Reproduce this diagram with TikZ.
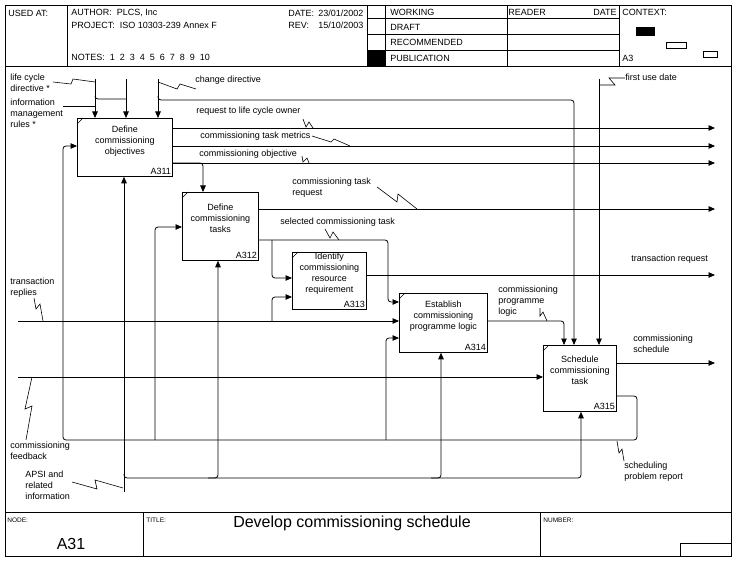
\documentclass[tikz,border=0pt]{standalone}
\usepackage{fontspec}
\setmainfont{Liberation Sans}
\usetikzlibrary{arrows.meta}

\begin{document}
\begin{tikzpicture}[x=1pt,y=-1pt,line width=0.8pt,
    caja/.style={draw,line width=0.8pt,anchor=north west,inner sep=0pt},
    texto/.style={font=\fontsize{9}{11}\selectfont,inner sep=0pt,align=center,anchor=north},
    etiq/.style={font=\fontsize{9}{11}\selectfont,inner sep=0pt,align=left,anchor=north west},
    cab/.style={font=\fontsize{9}{10}\selectfont,inner sep=0pt,anchor=west},
    pequeno/.style={font=\fontsize{6.5}{8}\selectfont,inner sep=0pt,anchor=west},
    flecha/.style={-{Triangle[length=6.5pt,width=5.5pt]},rounded corners=3pt},
    rayo/.style={line width=0.6pt}]
\useasboundingbox (0,0) rectangle (742,567);
\draw (5,5) rectangle (731,556); %marco
\draw (5,66) -- (731,66); %cabecera
\draw (67,5) -- (67,66);
\draw (367,5) -- (367,66);
\draw (385,5) -- (385,66);
\draw (507,5) -- (507,66);
\draw (619,5) -- (619,66);
\foreach \y in {18,34,50} \draw (367,\y) -- (619,\y); %filas de estado
\fill (367,50) rectangle (385,66);
\fill (636,27) rectangle (655,36); %contexto
\draw (666,42) rectangle (686,48);
\draw (703,51) rectangle (717,57);
\draw (5,512) -- (731,512); %pie
\draw (143,512) -- (143,556);
\draw (540,512) -- (540,556);
\draw (680,556) |- (731,543);
\node[cab] (usado) at (8,13) {USED AT:};
\node[cab] (autor) at (71,13) {AUTHOR:\ \ PLCS, Inc};
\node[cab] (proy) at (71,25) {PROJECT:\ \ ISO 10303-239 Annex F};
\node[cab] (notas) at (71,57) {NOTES:\ \ 1\ \ 2\ \ 3\ \ 4\ \ 5\ \ 6\ \ 7\ \ 8\ \ 9\ \ 10};
\node[cab] (fecha) at (288,13) {DATE:};
\node[cab] (fechav) at (318,13) {23/01/2002};
\node[cab] (rev) at (288,25) {REV:};
\node[cab] (revv) at (318,25) {15/10/2003};
\node[cab] (work) at (390,12) {WORKING};
\node[cab] (draft) at (390,27) {DRAFT};
\node[cab] (recom) at (390,42) {RECOMMENDED};
\node[cab] (publ) at (390,58) {PUBLICATION};
\node[cab] (lector) at (508,12) {READER};
\node[cab,anchor=east] (fechal) at (617,12) {DATE};
\node[cab] (contexto) at (622,12) {CONTEXT:};
\node[cab] (hoja) at (622,58) {A3};
\node[pequeno] (nodo) at (7,520) {NODE:};
\node[pequeno] (titulo) at (146,520) {TITLE:};
\node[pequeno] (numero) at (543,520) {NUMBER:};
\node[font=\fontsize{16}{18}\selectfont] (a31) at (71,544) {A31};
\node[font=\fontsize{16}{18}\selectfont] (tit) at (352,523) {Develop commissioning schedule};
\node[caja,minimum width=95,minimum height=58] (a311) at (77,118) {}; %caja A311
\node[caja,minimum width=76,minimum height=68] (a312) at (182,192) {}; %caja A312
\node[caja,minimum width=74,minimum height=57] (a313) at (292,252) {}; %caja A313
\node[caja,minimum width=88,minimum height=59] (a314) at (399,293) {}; %caja A314
\node[caja,minimum width=73,minimum height=66] (a315) at (543,345) {}; %caja A315
\foreach \c/\n in {a311/A311,a312/A312,a313/A313,a314/A314,a315/A315}{
  \draw[rayo] ([yshift=-6pt]\c.north west) -- ([xshift=6pt]\c.north west);
  \node[texto,anchor=south east,inner sep=1.5pt] (\c n) at (\c.south east) {\n};}
\node[texto] (t311) at ([yshift=-8pt]a311.north) {Define\\commissioning\\objectives};
\node[texto] (t312) at ([yshift=-12pt]a312.north) {Define\\commissioning\\tasks};
\node[texto] (t313) at ([yshift=-1pt]a313.north) {Identify\\commissioning\\resource\\requirement};
\node[texto] (t314) at ([yshift=-8pt]a314.north) {Establish\\commissioning\\programme logic};
\node[texto] (t315) at ([yshift=-11pt]a315.north) {Schedule\\commissioning\\task};
\coordinate (s1) at (715,128); %salidas
\coordinate (s2) at (715,146);
\coordinate (s3) at (715,163);
\coordinate (s4) at (715,209);
\coordinate (s5) at (715,275);
\coordinate (s6) at (715,363);
\coordinate (e1) at (18,321); %entradas
\coordinate (e2) at (18,377);
\coordinate (c1) at (95,79); %controles
\coordinate (c2) at (126,79);
\coordinate (c3) at (158,79);
\coordinate (c4) at (599,79);
\coordinate (c5) at (63,106);
\coordinate (m1) at (124,492); %mecanismo
\draw[flecha] (a311.east |- s1) -- (s1);
\draw[flecha] (a311.east |- s2) -- (s2);
\draw[flecha] (a311.east |- s3) -- (s3);
\draw[flecha] (a311.east |- s3) -| ([xshift=21pt]a312.north west);
\draw[flecha] (a312.east |- s4) -- (s4);
\draw[flecha] (a312.east |- 0,240) -| (388,302) -- (a314.west |- 0,302);
\draw[flecha] (272,240) |- (a313.west |- 0,278);
\draw[flecha] (272,321) |- (a313.west |- 0,297);
\draw[flecha] (e1) -- (a314.west |- e1);
\draw[flecha] (a313.east |- s5) -- (s5);
\draw[flecha] (e2) -- (a315.west |- e2);
\draw[flecha] (a314.east |- e1) -| ([xshift=21pt]a315.north west);
\draw[flecha] (c1) -- (c1 |- a311.north);
\draw[flecha] (c2) -- (c2 |- a311.north);
\draw[flecha] (c3) -- (c3 |- a311.north);
\draw (c5) -- (c1 |- c5);
\draw[rounded corners=3pt] ([yshift=-17pt]c1) |- ([yshift=-20pt]c2);
\draw[flecha] ([yshift=-17pt]c3) |- (574,100) -- ([xshift=31pt]a315.north west);
\draw[flecha] (c4) -- (c4 |- a315.north);
\draw[flecha] (a315.east |- s6) -- (s6);
\draw[flecha] (a315.east |- 0,396) -- (637,396) -- (637,440) -- (63,440) -- (63,146) -- (a311.west |- 0,146); %realimentacion
\draw[flecha] (155,440) |- (a312.west |- 0,227);
\draw[flecha] (386,440) |- (a314.west |- 0,338);
\draw[flecha] (m1) -- (m1 |- a311.south);
\draw[flecha] (124,474) |- (581,478) -- (a315.south -| 581,0);
\draw[flecha] (208,478) -| (a312.south -| 218,0);
\draw[flecha] (431,478) -| (a314.south -| 441,0);
\node[etiq] (l1) at (10,74) {life cycle\\directive *};
\node[etiq] (l2) at (10,99) {information\\management\\rules *};
\node[etiq] (l3) at (195,76) {change directive};
\node[etiq] (l4) at (196,107) {request to life cycle owner};
\node[etiq] (l5) at (200,132) {commissioning task metrics};
\node[etiq] (l6) at (199,150) {commissioning objective};
\node[etiq] (l7) at (292,178) {commissioning task\\request};
\node[etiq] (l8) at (280,218) {selected commissioning task};
\node[etiq] (l9) at (631,255) {transaction request};
\node[etiq] (l10) at (10,278) {transaction\\replies};
\node[etiq] (l11) at (498,286) {commissioning\\programme\\logic};
\node[etiq] (l12) at (633,335) {commissioning\\schedule};
\node[etiq] (l13) at (10,442) {commissioning\\feedback};
\node[etiq] (l14) at (25,471) {APSI and\\related\\information};
\node[etiq] (l15) at (624,462) {scheduling\\problem report};
\node[etiq] (l16) at (625,74) {first use date};
\draw[rayo] (53,82) -- (71,84) -- (73,79) -- (c1 |- 0,82); %rayos de etiquetas
\draw[rayo] (196,89) -- (180,84) -- (177,89) -- (c3 |- 0,82);
\draw[rayo] (303,119) -- (306,127) -- (309,122) -- (313,128);
\draw[rayo] (312,136) -- (331,142) -- (334,139) -- (350,146);
\draw[rayo] (302,156) -- (303,162) -- (307,158) -- (309,163);
\draw[rayo] (377,187) -- (397,202) -- (398,194) -- (417,209);
\draw[rayo] (325,229) -- (330,238) -- (333,232) -- (339,240);
\draw[rayo] (34,298) -- (36,309) -- (40,304) -- (43,321);
\draw[rayo] (540,308) -- (540,316) -- (543,312) -- (547,321);
\draw[rayo] (32,377) -- (25,409) -- (32,406) -- (26,440);
\draw[rayo] (72,482) -- (97,489) -- (95,480) -- (123,488);
\draw[rayo] (617,441) -- (619,453) -- (622,449) -- (624,461);
\draw[rayo] (625,78) -- (609,78) -- (615,85) -- (c4 |- 0,85);
\end{tikzpicture}
\end{document}
